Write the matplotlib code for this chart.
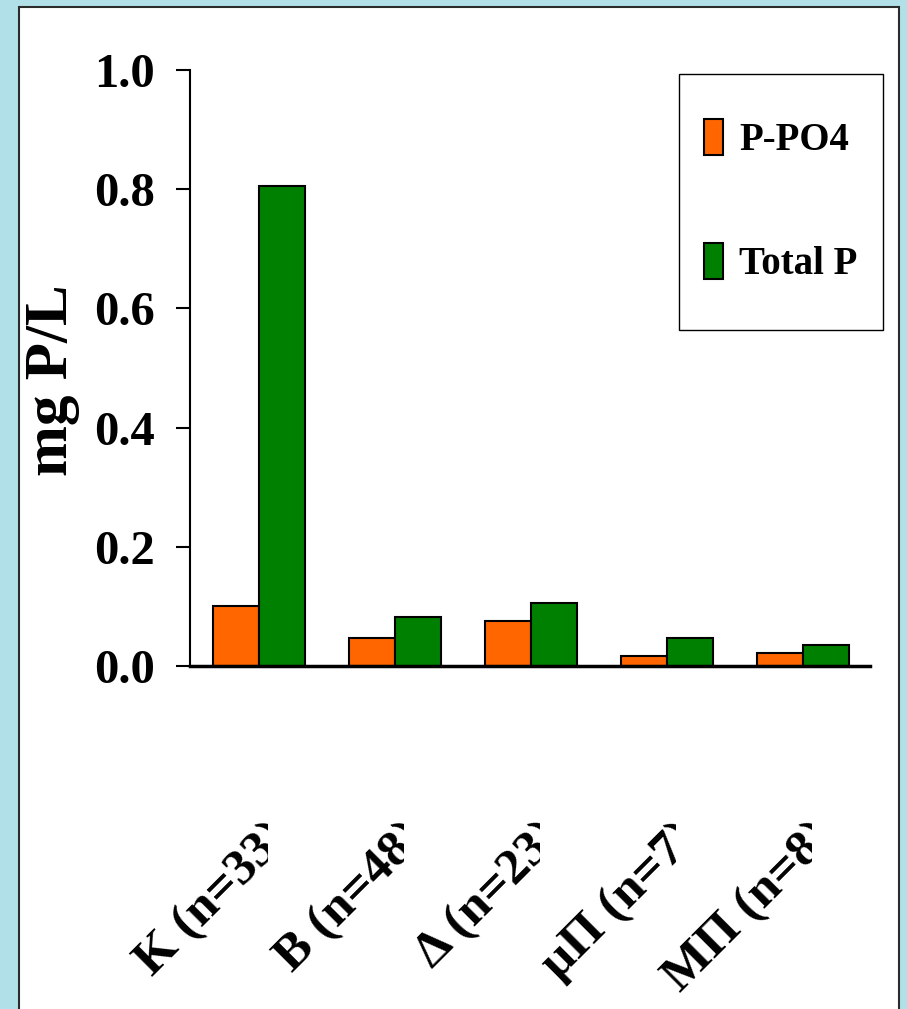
import matplotlib.pyplot as plt
import numpy as np
from matplotlib.patches import Rectangle
from matplotlib.transforms import Bbox, TransformedBbox, blended_transform_factory

plt.rcParams['font.family'] = ['Liberation Serif', 'DejaVu Serif']
plt.rcParams['font.weight'] = 'bold'

sites = ["K (n=33)", "B (n=48)", "Δ (n=23)", "μΠ (n=7)", "ΜΠ (n=8)"]
p_po4 = [0.100, 0.047, 0.076, 0.017, 0.022]
total_p = [0.805, 0.083, 0.106, 0.047, 0.035]
yticks = [0.0, 0.2, 0.4, 0.6, 0.8, 1.0]

W, H = 907, 1009
fig = plt.figure(figsize=(W / 100, H / 100), dpi=100)
fig.patch.set_facecolor("#b2e0e8")

# white slide panel
fig.add_artist(Rectangle((19 / W, -0.02), (899 - 19) / W, (H - 7) / H + 0.02,
                         transform=fig.transFigure, facecolor="white",
                         edgecolor="#2b2b2b", linewidth=1.5, zorder=-5))

ax = fig.add_axes([190 / W, 1 - 666 / H, 680 / W, 596 / H])
ax.patch.set_visible(False)

x = np.arange(len(sites))
w = 0.34
ax.bar(x - w / 2, p_po4, w, color="#ff6600", edgecolor="black", linewidth=1.5, label="P-PO4")
ax.bar(x + w / 2, total_p, w, color="#008000", edgecolor="black", linewidth=1.5, label="Total P")

ax.set_xlim(-0.507, 4.493)
ax.set_ylim(0, 1.0)
ax.set_yticks(yticks)
ax.set_yticklabels([f"{v:.1f}" for v in yticks])
ax.set_xticks([])
ax.tick_params(axis="y", direction="out", length=10, width=1.5, pad=15, labelsize=35)
for s in ["top", "right"]:
    ax.spines[s].set_visible(False)
ax.spines["left"].set_linewidth(1.5)
ax.spines["bottom"].set_linewidth(2.5)

fig.text(52 / W, 1 - 380 / H, "mg P/L", rotation=90, ha="center", va="center", fontsize=44)

# rotated category labels, cut off at the right like a narrow text box
trans = blended_transform_factory(ax.transData, fig.transFigure)
for i, name in enumerate(sites):
    t = fig.text(i + 24 / 136, 1 - 830 / H, name, transform=trans, rotation=45,
                 rotation_mode="anchor", ha="right", va="center", fontsize=37)
    t.set_clip_box(TransformedBbox(Bbox.from_extents(-5, 0, i + 9 / 136, 1), trans))
    t.set_clip_on(True)

# legend with a drawn frame
fig.add_artist(Rectangle((679 / W, 1 - 330 / H), 204 / W, 256 / H, transform=fig.transFigure,
                         facecolor="white", edgecolor="black", linewidth=1.0, zorder=-1))
leg = ax.legend(loc="upper left", bbox_to_anchor=(704 / W, 1 - 119 / H), bbox_transform=fig.transFigure,
                frameon=False, fontsize=28, handlelength=0.5, handleheight=1.05,
                labelspacing=2.15, handletextpad=0.4, borderpad=0, borderaxespad=0)

fig.savefig("out.png", dpi=100, facecolor=fig.get_facecolor())
